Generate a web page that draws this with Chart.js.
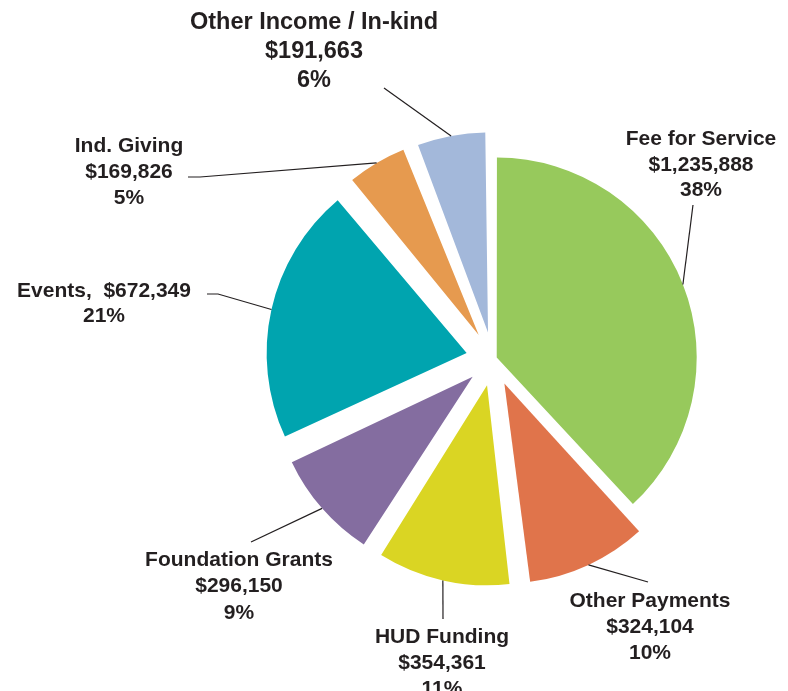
<!DOCTYPE html>
<html lang="en">
<head>
    <meta charset="UTF-8">
    <title>Revenue by Source</title>
    <script src="https://cdn.jsdelivr.net/npm/chart.js"></script>
    <style>
        html, body { margin: 0; padding: 0; background: #ffffff; }
        #wrap { position: relative; width: 788px; height: 691px; }
    </style>
</head>
<body>
    <div id="wrap"><canvas id="revenuePie"></canvas></div>
    <script>
        // Revenue sources, clockwise from 12 o'clock
        const categories = ['Fee for Service', 'Other Payments', 'HUD Funding', 'Foundation Grants', 'Events', 'Ind. Giving', 'Other Income / In-kind'];
        const amounts = [1235888, 324104, 354361, 296150, 672349, 169826, 191663];
        const percents = [38, 10, 11, 9, 21, 5, 6];

        const colors = ['#97c95c', '#e0744b', '#dad523', '#846da0', '#00a4af', '#e69a4f', '#a3b8da'];
        const explode = [4, 27, 27, 27, 27, 28, 27]; // how far each slice is pulled out (px)
        const PIE_RADIUS = 200;
        const TEXT_COLOR = '#231f20';

        // Callout layout relative to the pie centre: text centre x, first baseline y,
        // line step, font size and the leader line points on the label side
        const callouts = [
            { x: 208, y: -214, step: 25.5, size: 21, line: [[200, -154]] },
            { x: 157, y: 248, step: 26, size: 21, line: [[155, 223]] },
            { x: -51, y: 284, step: 26, size: 21, line: [[-50, 260]] },
            { x: -254, y: 207, step: 26.3, size: 21, line: [[-242, 183]] },
            { x: -389, y: -62, step: 25, size: 21, line: [[-286, -65], [-275, -65]], inline: true },
            { x: -364, y: -207, step: 26, size: 21, line: [[-305, -182], [-293, -182]] },
            { x: -179, y: -330, step: 29, size: 23.5, line: [[-109, -271]] }
        ];

        function money(v) {
            return '$' + v.toLocaleString('en-US');
        }

        // Text lines for one slice
        function labelLines(i) {
            if (callouts[i].inline) {
                return [categories[i] + ',  ' + money(amounts[i]), percents[i] + '%'];
            }
            return [categories[i], money(amounts[i]), percents[i] + '%'];
        }

        const calloutPlugin = {
            id: 'callouts',
            afterDatasetUpdate(chart, args) {
                // Chart.js also grows an offset arc by offset*(1-sin(angle)); undo that
                // so every slice keeps the same radius and is only moved outwards
                args.meta.data.forEach((arc, i) => {
                    const fix = 1 - Math.sin(Math.min(Math.PI, arc.circumference));
                    arc.outerRadius = PIE_RADIUS - explode[i] * fix;
                });
            },
            afterDatasetsDraw(chart) {
                const ctx = chart.ctx;
                const arcs = chart.getDatasetMeta(0).data;
                ctx.save();
                arcs.forEach((arc, i) => {
                    const c = callouts[i];
                    const mid = (arc.startAngle + arc.endAngle) / 2;
                    const cx = arc.x + Math.cos(mid) * explode[i];
                    const cy = arc.y + Math.sin(mid) * explode[i];
                    const ax = cx + Math.cos(mid) * PIE_RADIUS;
                    const ay = cy + Math.sin(mid) * PIE_RADIUS;

                    // leader line
                    ctx.beginPath();
                    c.line.forEach((p, k) => {
                        if (k === 0) ctx.moveTo(arc.x + p[0], arc.y + p[1]);
                        else ctx.lineTo(arc.x + p[0], arc.y + p[1]);
                    });
                    ctx.lineTo(ax, ay);
                    ctx.strokeStyle = TEXT_COLOR;
                    ctx.lineWidth = 1.2;
                    ctx.stroke();

                    // label text
                    ctx.fillStyle = TEXT_COLOR;
                    ctx.font = 'bold ' + c.size + 'px "Liberation Sans", Arial, sans-serif';
                    ctx.textAlign = 'center';
                    ctx.textBaseline = 'alphabetic';
                    labelLines(i).forEach((txt, k) => {
                        ctx.fillText(txt, arc.x + c.x, arc.y + c.y + k * c.step);
                    });
                });
                ctx.restore();
            }
        };

        const ctx = document.getElementById('revenuePie').getContext('2d');
        new Chart(ctx, {
            type: 'pie',
            data: {
                labels: categories,
                datasets: [{
                    data: amounts,
                    backgroundColor: colors,
                    borderWidth: 0,
                    offset: explode.map(t => t * 4), // Chart.js moves an arc by offset / 4
                    radius: PIE_RADIUS
                }]
            },
            options: {
                responsive: true,
                maintainAspectRatio: false,
                animation: false,
                events: [],
                layout: { padding: { left: 200, right: 2, top: 28, bottom: 1 } },
                plugins: {
                    legend: { display: false },
                    tooltip: { enabled: false }
                }
            },
            plugins: [calloutPlugin]
        });
    </script>
</body>
</html>
